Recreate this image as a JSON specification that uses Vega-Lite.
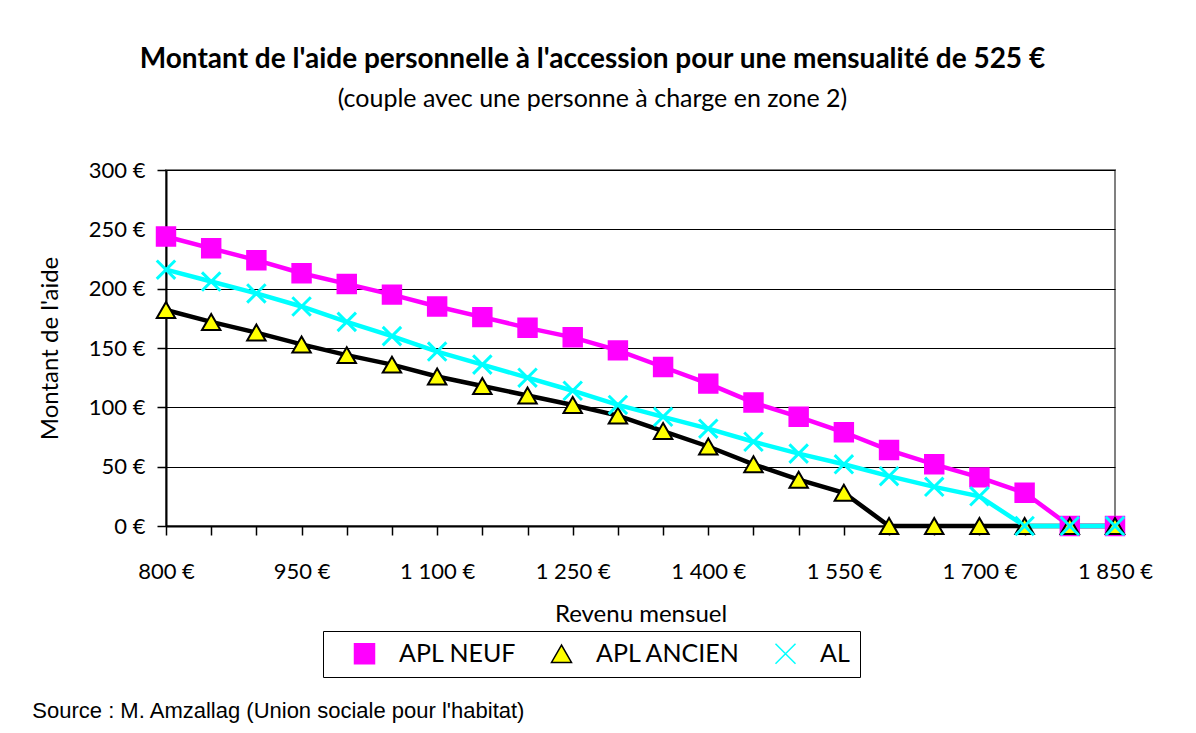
{
  "$schema": "https://vega.github.io/schema/vega-lite/v6.json",
  "background": "white",
  "padding": {"left": 31, "top": 46, "right": 10, "bottom": 10},
  "title": {
    "text": "Montant de l'aide personnelle à l'accession pour une mensualité de 525 €",
    "subtitle": "(couple avec une personne à charge en zone 2)",
    "font": "Lato", "fontSize": 28, "fontWeight": "bold", "color": "black",
    "subtitleFont": "Lato", "subtitleFontSize": 25, "subtitleColor": "black",
    "subtitlePadding": 13, "anchor": "middle", "offset": 46
  },
  "config": {
    "view": {"stroke": "#808080", "strokeWidth": 2},
    "axis": {"labelFont": "Lato", "titleFont": "Lato", "labelColor": "black", "titleColor": "black", "titleFontWeight": "normal"}
  },
  "vconcat": [
    {
      "width": 949,
      "height": 356,
      "title": {
        "text": "Source : M. Amzallag (Union sociale pour l'habitat)",
        "orient": "bottom", "anchor": "start", "frame": "bounds",
        "font": "Liberation Sans", "fontSize": 22, "fontWeight": "normal", "color": "black",
        "offset": 75, "dx": -6
      },
      "data": {"values": [
        {"x": 800, "serie": "APL NEUF", "v": 244},
        {"x": 850, "serie": "APL NEUF", "v": 234},
        {"x": 900, "serie": "APL NEUF", "v": 224},
        {"x": 950, "serie": "APL NEUF", "v": 213},
        {"x": 1000, "serie": "APL NEUF", "v": 204},
        {"x": 1050, "serie": "APL NEUF", "v": 195},
        {"x": 1100, "serie": "APL NEUF", "v": 185},
        {"x": 1150, "serie": "APL NEUF", "v": 176},
        {"x": 1200, "serie": "APL NEUF", "v": 167},
        {"x": 1250, "serie": "APL NEUF", "v": 159},
        {"x": 1300, "serie": "APL NEUF", "v": 148},
        {"x": 1350, "serie": "APL NEUF", "v": 134},
        {"x": 1400, "serie": "APL NEUF", "v": 120},
        {"x": 1450, "serie": "APL NEUF", "v": 104},
        {"x": 1500, "serie": "APL NEUF", "v": 92},
        {"x": 1550, "serie": "APL NEUF", "v": 79},
        {"x": 1600, "serie": "APL NEUF", "v": 64},
        {"x": 1650, "serie": "APL NEUF", "v": 52},
        {"x": 1700, "serie": "APL NEUF", "v": 41},
        {"x": 1750, "serie": "APL NEUF", "v": 28},
        {"x": 1800, "serie": "APL NEUF", "v": 0},
        {"x": 1850, "serie": "APL NEUF", "v": 0},
        {"x": 800, "serie": "APL ANCIEN", "v": 182},
        {"x": 850, "serie": "APL ANCIEN", "v": 172},
        {"x": 900, "serie": "APL ANCIEN", "v": 163},
        {"x": 950, "serie": "APL ANCIEN", "v": 153},
        {"x": 1000, "serie": "APL ANCIEN", "v": 144},
        {"x": 1050, "serie": "APL ANCIEN", "v": 136},
        {"x": 1100, "serie": "APL ANCIEN", "v": 126},
        {"x": 1150, "serie": "APL ANCIEN", "v": 118},
        {"x": 1200, "serie": "APL ANCIEN", "v": 110},
        {"x": 1250, "serie": "APL ANCIEN", "v": 102},
        {"x": 1300, "serie": "APL ANCIEN", "v": 93},
        {"x": 1350, "serie": "APL ANCIEN", "v": 80},
        {"x": 1400, "serie": "APL ANCIEN", "v": 67},
        {"x": 1450, "serie": "APL ANCIEN", "v": 52},
        {"x": 1500, "serie": "APL ANCIEN", "v": 39},
        {"x": 1550, "serie": "APL ANCIEN", "v": 28},
        {"x": 1600, "serie": "APL ANCIEN", "v": 0},
        {"x": 1650, "serie": "APL ANCIEN", "v": 0},
        {"x": 1700, "serie": "APL ANCIEN", "v": 0},
        {"x": 1750, "serie": "APL ANCIEN", "v": 0},
        {"x": 1800, "serie": "APL ANCIEN", "v": 0},
        {"x": 1850, "serie": "APL ANCIEN", "v": 0},
        {"x": 800, "serie": "AL", "v": 216},
        {"x": 850, "serie": "AL", "v": 206},
        {"x": 900, "serie": "AL", "v": 196},
        {"x": 950, "serie": "AL", "v": 185},
        {"x": 1000, "serie": "AL", "v": 172},
        {"x": 1050, "serie": "AL", "v": 160},
        {"x": 1100, "serie": "AL", "v": 147},
        {"x": 1150, "serie": "AL", "v": 136},
        {"x": 1200, "serie": "AL", "v": 125},
        {"x": 1250, "serie": "AL", "v": 114},
        {"x": 1300, "serie": "AL", "v": 102},
        {"x": 1350, "serie": "AL", "v": 92},
        {"x": 1400, "serie": "AL", "v": 82},
        {"x": 1450, "serie": "AL", "v": 71},
        {"x": 1500, "serie": "AL", "v": 61},
        {"x": 1550, "serie": "AL", "v": 52},
        {"x": 1600, "serie": "AL", "v": 42},
        {"x": 1650, "serie": "AL", "v": 33},
        {"x": 1700, "serie": "AL", "v": 25},
        {"x": 1750, "serie": "AL", "v": 0},
        {"x": 1800, "serie": "AL", "v": 0},
        {"x": 1850, "serie": "AL", "v": 0}
      ]},
      "encoding": {
        "x": {
          "field": "x", "type": "quantitative",
          "scale": {"domain": [800, 1850], "nice": false, "zero": false},
          "axis": {
            "values": [800, 850, 900, 950, 1000, 1050, 1100, 1150, 1200, 1250, 1300, 1350, 1400, 1450, 1500, 1550, 1600, 1650, 1700, 1750, 1800, 1850],
            "labelExpr": "(datum.value - 800) % 150 === 0 ? replace(format(datum.value, ','), ',', ' ') + ' €' : ''",
            "grid": false, "tickSize": 9, "tickColor": "black", "tickWidth": 1.5,
            "domainColor": "black", "domainWidth": 2,
            "labelFontSize": 22, "labelPadding": 26, "labelOverlap": false, "labelFlush": false,
            "title": "Revenu mensuel", "titleFontSize": 24, "titlePadding": 20
          }
        },
        "y": {
          "field": "v", "type": "quantitative",
          "scale": {"domain": [0, 300], "nice": false},
          "axis": {
            "values": [0, 50, 100, 150, 200, 250, 300],
            "labelExpr": "datum.value + ' €'",
            "grid": true, "gridColor": "black", "gridWidth": 1, "gridOpacity": 1,
            "tickSize": 9, "tickColor": "black", "tickWidth": 1.5,
            "domainColor": "black", "domainWidth": 2,
            "labelFontSize": 22, "labelPadding": 12,
            "title": "Montant de l'aide", "titleFontSize": 24, "titlePadding": 26
          }
        }
      },
      "layer": [
        {
          "mark": {"type": "line", "strokeWidth": 4.5},
          "encoding": {
            "stroke": {
              "field": "serie", "type": "nominal",
              "scale": {"domain": ["APL NEUF", "APL ANCIEN", "AL"], "range": ["#FF00FF", "#000000", "#00FFFF"]}
            }
          }
        },
        {
          "mark": {"type": "point", "filled": true, "size": 340, "opacity": 1},
          "encoding": {
            "shape": {
              "field": "serie", "type": "nominal",
              "scale": {"domain": ["APL NEUF", "APL ANCIEN", "AL"], "range": ["square", "triangle-up", "M-1,-1L1,1M-1,1L1,-1"]},
              "legend": {
                "title": null, "orient": "none", "legendX": 157, "legendY": 461,
                "direction": "horizontal",
                "strokeColor": "black", "fillColor": "white", "padding": 10,
                "symbolSize": 400, "symbolOffset": 19, "labelOffset": 22,
                "labelFont": "Lato", "labelFontSize": 25, "labelColor": "black",
                "columnPadding": 13,
                "encode": {
                  "symbols": {
                    "shape": {"value": {"expr": "datum.value === 'APL NEUF' ? 'M-3.1,0H3.1M-0.8,-0.8H0.8V0.8H-0.8Z' : datum.value === 'APL ANCIEN' ? 'M-3.1,-0.12H-0.45M-3.1,0.12H-0.45M0.45,-0.12H3.1M0.45,0.12H3.1M0,-0.95L0.9,0.85L-0.9,0.85Z' : 'M-3.1,-0.07H3.1M-3.1,0.07H3.1M-1,-1L1,1M-1,1L1,-1'"}},
                    "strokeWidth": {"value": {"expr": "datum.value === 'APL NEUF' ? 4 : datum.value === 'APL ANCIEN' ? 2 : 3"}}
                  }
                }
              }
            },
            "fill": {
              "field": "serie", "type": "nominal",
              "scale": {"domain": ["APL NEUF", "APL ANCIEN", "AL"], "range": ["#FF00FF", "#FFFF00", "#00FFFF"]},
              "legend": {
                "title": null, "orient": "none", "legendX": 157, "legendY": 461,
                "direction": "horizontal",
                "strokeColor": "black", "fillColor": "white", "padding": 10,
                "symbolSize": 400, "symbolOffset": 19, "labelOffset": 22,
                "labelFont": "Lato", "labelFontSize": 25, "labelColor": "black",
                "columnPadding": 13,
                "encode": {
                  "symbols": {
                    "shape": {"value": {"expr": "datum.value === 'APL NEUF' ? 'M-3.1,0H3.1M-0.8,-0.8H0.8V0.8H-0.8Z' : datum.value === 'APL ANCIEN' ? 'M-3.1,-0.12H-0.45M-3.1,0.12H-0.45M0.45,-0.12H3.1M0.45,0.12H3.1M0,-0.95L0.9,0.85L-0.9,0.85Z' : 'M-3.1,-0.07H3.1M-3.1,0.07H3.1M-1,-1L1,1M-1,1L1,-1'"}},
                    "strokeWidth": {"value": {"expr": "datum.value === 'APL NEUF' ? 4 : datum.value === 'APL ANCIEN' ? 2 : 3"}}
                  }
                }
              }
            },
            "stroke": {
              "field": "serie", "type": "nominal",
              "legend": {
                "title": null, "orient": "none", "legendX": 157, "legendY": 461,
                "direction": "horizontal",
                "strokeColor": "black", "fillColor": "white", "padding": 10,
                "symbolSize": 400, "symbolOffset": 19, "labelOffset": 22,
                "labelFont": "Lato", "labelFontSize": 25, "labelColor": "black",
                "columnPadding": 13,
                "encode": {
                  "symbols": {
                    "shape": {"value": {"expr": "datum.value === 'APL NEUF' ? 'M-3.1,0H3.1M-0.8,-0.8H0.8V0.8H-0.8Z' : datum.value === 'APL ANCIEN' ? 'M-3.1,-0.12H-0.45M-3.1,0.12H-0.45M0.45,-0.12H3.1M0.45,0.12H3.1M0,-0.95L0.9,0.85L-0.9,0.85Z' : 'M-3.1,-0.07H3.1M-3.1,0.07H3.1M-1,-1L1,1M-1,1L1,-1'"}},
                    "strokeWidth": {"value": {"expr": "datum.value === 'APL NEUF' ? 4 : datum.value === 'APL ANCIEN' ? 2 : 3"}}
                  }
                }
              }
            },
            "strokeWidth": {
              "condition": {"test": "datum.serie === 'AL'", "value": 3},
              "value": 2
            }
          }
        }
      ]
    }
  ]
}
